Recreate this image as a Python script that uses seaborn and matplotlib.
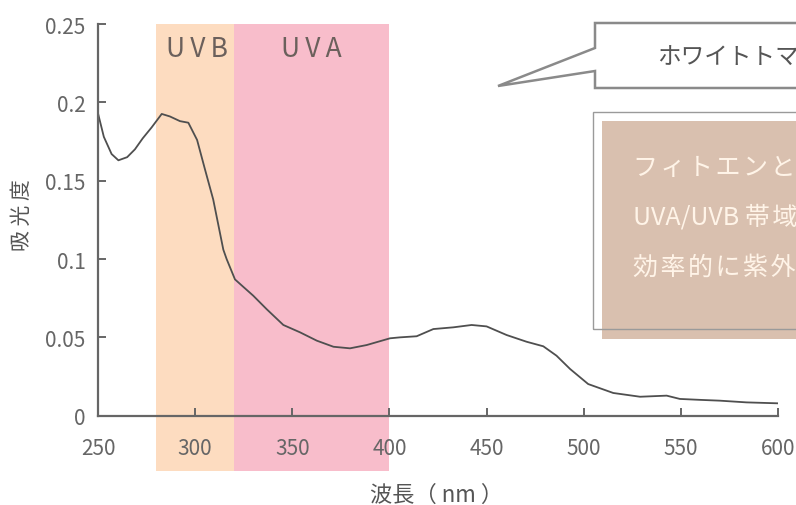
import matplotlib
matplotlib.use("Agg")
import matplotlib.pyplot as plt
from matplotlib.patches import Polygon, Rectangle
import numpy as np
import pandas as pd
import seaborn as sns

# Absorption spectrum (wavelength in nm, absorbance)
wavelength = [250, 253, 257, 260.5, 265, 269, 273, 277.6, 282.8, 287, 292.2, 296.5,
              301, 305, 309.3, 314.5, 316.2, 320.5, 325, 329.9, 336.8, 345.4,
              354, 362.6, 371.2, 379.7, 388.3, 400.3, 405.4, 414, 422.6, 432.9,
              442.3, 450, 460.3, 470.6, 479.2, 486, 493, 502.3, 515.2, 529,
              542.7, 549.5, 560, 570, 583.8, 600]
absorbance = [0.193, 0.178, 0.167, 0.163, 0.165, 0.170, 0.177, 0.184, 0.1926, 0.191, 0.188, 0.187,
              0.176, 0.1575, 0.138, 0.106, 0.100, 0.087, 0.082, 0.0766, 0.068, 0.0579,
              0.0532, 0.0479, 0.044, 0.043, 0.0451, 0.0494, 0.050, 0.0507, 0.0553, 0.0564,
              0.0579, 0.057, 0.0515, 0.0472, 0.0443, 0.0383, 0.0298, 0.0202, 0.0145, 0.0121,
              0.0128, 0.0107, 0.0101, 0.0096, 0.0085, 0.0079]

# UV bands
bands = ["UVB", "UVA"]
band_start = [280, 320]
band_end = [320, 400]
band_label_x = [301, 360]
band_colors = ["#FDDCC0", "#F8BDCB"]

x_ticks = [250, 300, 350, 400, 450, 500, 550, 600]
y_ticks = [0, 0.05, 0.1, 0.15, 0.2, 0.25]
y_tick_labels = ["0", "0.05", "0.1", "0.15", "0.2", "0.25"]

callout_title = "ホワイトトマトの吸光スペクトル"
callout_lines = ["フィトエンとフィトフルエンは",
                 "UVA/UVB 帯域の光を吸収し、",
                 "効率的に紫外線をカットします"]

sns.set_theme(style="white")
plt.rcParams["font.family"] = ["Noto Sans CJK JP", "DejaVu Sans"]

W, H = 796, 506
fig = plt.figure(figsize=(W / 100, H / 100), dpi=100)
ax = fig.add_axes([98 / W, 1 - 416.7 / H, 680 / W, 391.7 / H])

def fxy(px, py):
    return px / W, 1 - py / H

def tracked(s):
    """Add a hair space after each full-width character for looser tracking."""
    out = ""
    for ch in s:
        out += ch
        if ord(ch) > 127:
            out += "\u200a"
    return out

text_gray = "#666666"

# Shaded UV bands, extending below the x axis
for name, s, e, lx, c in zip(bands, band_start, band_end, band_label_x, band_colors):
    ax.axvspan(s, e, ymin=-0.1404, ymax=1.0, color=c, lw=0, zorder=0, clip_on=False)
    ax.text(lx, 0.2345, "\u2009".join(name), ha="center", va="center",
            fontsize=19, color="#6b605c", zorder=3)

df = pd.DataFrame({"wavelength": wavelength, "absorbance": absorbance})
sns.lineplot(data=df, x="wavelength", y="absorbance", ax=ax, color="#4f4f4f",
             lw=1.3, zorder=4)

ax.set_xlim(250, 600)
ax.set_ylim(0, 0.25)
ax.set_xticks(x_ticks)
ax.set_xticklabels([str(t) for t in x_ticks])
ax.set_yticks(y_ticks)
ax.set_yticklabels(y_tick_labels)
ax.patch.set_alpha(0)

for side in ["top", "right"]:
    ax.spines[side].set_visible(False)
for side in ["left", "bottom"]:
    ax.spines[side].set_color("#666666")
    ax.spines[side].set_linewidth(1.6)
    ax.spines[side].set_zorder(5)

ax.tick_params(axis="x", direction="in", length=6, width=1.4, color="#666666",
               labelsize=15, labelcolor=text_gray, pad=15, bottom=True)
ax.tick_params(axis="y", direction="in", length=6, width=1.4, color="#666666",
               labelsize=15, labelcolor=text_gray, pad=9, left=True)

ax.set_xlabel("")
ax.set_ylabel("")
fig.text(*fxy(437, 495), "波長（ nm ）", ha="center", va="center",
         fontsize=16, color="#555555")
fig.text(*fxy(22, 215), "吸 光 度", ha="center", va="center", rotation=90,
         fontsize=15, color="#555555")

# Speech-bubble callout at top right
bubble = [fxy(595, 24), fxy(820, 24), fxy(820, 89), fxy(595, 89),
          fxy(595, 72), fxy(498, 87), fxy(595, 49)]
fig.patches.append(Polygon(bubble, closed=True, transform=fig.transFigure,
                           facecolor="white", edgecolor="#8a8a8a", lw=1.8,
                           zorder=6))
fig.text(*fxy(657, 57), callout_title, ha="left", va="center", fontsize=17,
         color="#555555", zorder=7)

# Note box
fig.patches.append(Rectangle(fxy(602, 340), 300 / W, 218 / H,
                             transform=fig.transFigure, facecolor="#D9C0AF",
                             edgecolor="none", zorder=6))
fig.patches.append(Rectangle(fxy(593, 330), 300 / W, 217 / H,
                             transform=fig.transFigure, facecolor="none",
                             edgecolor="#9a9a9a", lw=1.0, zorder=7))
for i, line in enumerate(callout_lines):
    fig.text(*fxy(633, 168 + 50 * i), tracked(line), ha="left", va="center",
             fontsize=18, color="#FFF4E8", zorder=8)

fig.savefig("out.png", dpi=100)
